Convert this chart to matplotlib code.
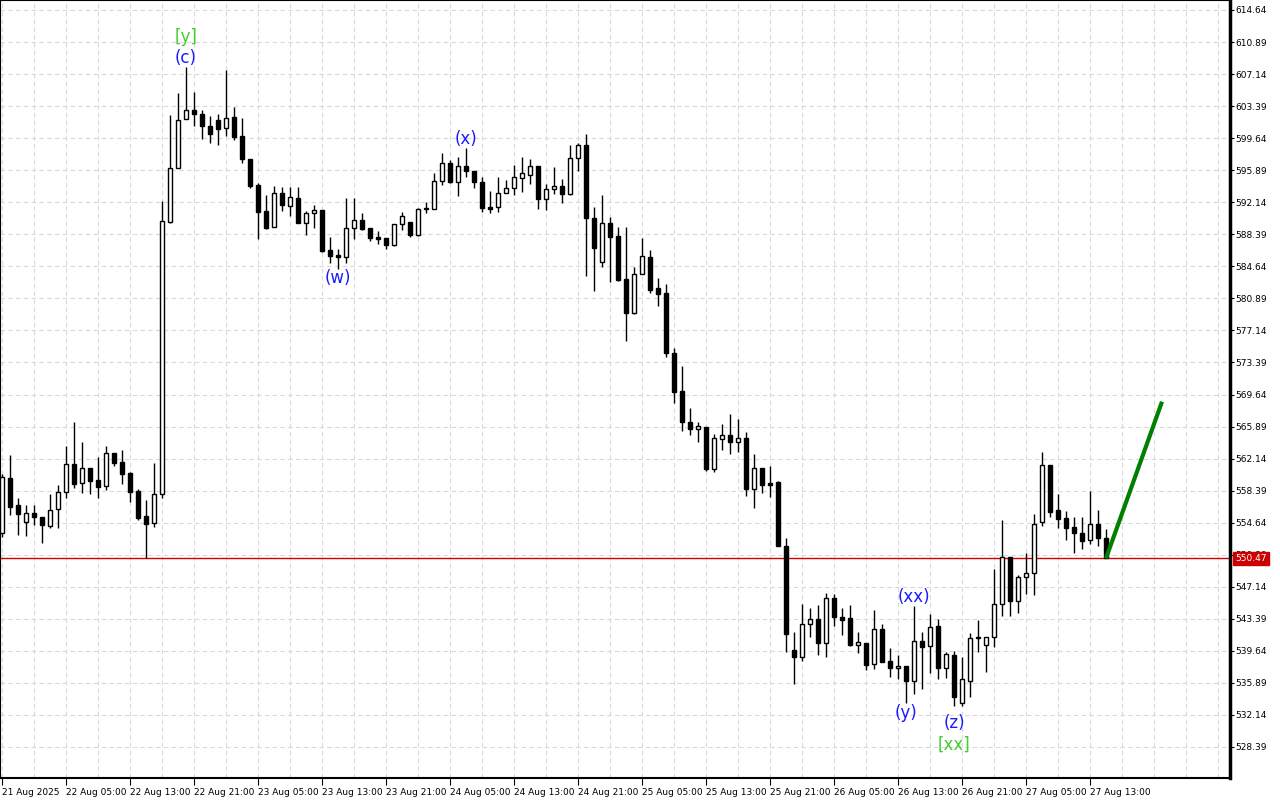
import matplotlib
matplotlib.use("Agg")
import matplotlib.pyplot as plt
import matplotlib.transforms as mtransforms

# ---------------- data (hourly candles, first bar = 21 Aug 2025 21:00) ----------------
opens = [553.40, 559.83, 556.67, 554.68, 555.74, 555.31, 554.29, 556.20, 558.19, 561.47,
         559.24, 561.00, 559.60, 558.97, 562.76, 561.74, 560.46, 558.35, 555.39, 554.57,
         557.96, 589.79, 596.11, 601.85, 602.90, 602.43, 601.10, 601.77, 600.79, 602.08,
         599.89, 597.20, 594.16, 591.12, 589.21, 593.19, 591.74, 592.60, 589.75, 590.85,
         591.23, 586.55, 585.97, 585.70, 589.09, 590.06, 589.09, 588.07, 587.96, 587.14,
         589.56, 589.79, 588.34, 591.31, 591.31, 594.59, 596.70, 594.51, 596.35, 595.76,
         594.51, 591.58, 591.55, 593.19, 593.77, 594.94, 595.29, 596.35, 592.56, 593.66,
         594.01, 593.07, 597.28, 598.84, 590.26, 585.18, 589.68, 588.19, 583.16, 579.14,
         583.71, 585.70, 582.07, 581.48, 574.46, 570.05, 566.42, 565.64, 565.84, 560.95,
         564.47, 564.86, 564.12, 564.51, 558.62, 561.08, 559.28, 559.36, 551.95, 539.70,
         538.89, 542.75, 543.34, 540.53, 545.79, 543.60, 543.45, 540.36, 540.53, 538.07,
         542.16, 538.45, 537.60, 537.87, 536.11, 540.76, 540.17, 542.55, 537.60, 539.15,
         533.54, 536.11, 541.11, 540.33, 541.30, 545.09, 550.59, 545.51, 548.25, 548.72,
         554.68, 561.38, 556.12, 555.15, 554.10, 553.40, 552.61, 554.48, 552.81]
highs = [560.30, 562.56, 557.53, 556.71, 556.71, 555.31, 557.99, 559.05, 563.61, 566.42,
         564.08, 561.00, 562.33, 563.61, 562.76, 563.14, 560.57, 558.55, 557.30, 561.59,
         592.29, 602.35, 604.89, 608.00, 605.04, 602.94, 602.23, 602.47, 607.62, 603.33,
         601.97, 597.20, 594.43, 592.99, 594.04, 593.96, 593.89, 593.89, 591.12, 591.82,
         591.23, 588.07, 586.71, 592.67, 592.64, 590.84, 589.09, 588.74, 587.96, 589.56,
         590.99, 589.79, 591.50, 592.20, 595.53, 597.87, 597.08, 597.47, 598.49, 595.76,
         595.13, 593.46, 595.10, 594.74, 596.50, 597.40, 597.20, 596.35, 594.28, 596.27,
         594.86, 598.84, 599.11, 600.13, 591.55, 592.99, 590.38, 589.28, 589.21, 584.53,
         587.96, 586.55, 583.24, 582.57, 575.05, 572.98, 568.06, 566.42, 565.84, 565.02,
         566.19, 567.36, 566.78, 565.25, 562.64, 561.08, 561.27, 559.55, 552.81, 541.89,
         545.12, 544.62, 545.01, 546.38, 546.26, 544.62, 545.01, 541.89, 540.53, 544.43,
         542.78, 539.94, 539.15, 537.87, 544.92, 541.89, 543.92, 543.34, 539.50, 539.65,
         538.96, 541.69, 543.25, 541.30, 549.23, 554.95, 550.59, 548.52, 551.06, 555.62,
         562.88, 561.38, 557.99, 556.00, 555.27, 555.27, 558.35, 556.12, 553.95]
lows = [553.00, 555.54, 553.20, 553.08, 554.37, 552.30, 554.06, 554.06, 557.56, 558.73,
        558.08, 557.99, 557.56, 558.46, 561.30, 559.20, 557.10, 554.95, 550.50, 554.17,
        557.50, 589.70, 596.10, 601.85, 601.06, 599.51, 599.11, 598.84, 599.89, 599.42,
        596.77, 593.77, 587.80, 588.97, 589.21, 591.15, 590.53, 589.67, 588.27, 589.17,
        586.35, 584.99, 584.29, 585.07, 587.80, 588.89, 587.64, 587.25, 586.63, 587.00,
        588.89, 588.10, 588.20, 590.84, 591.30, 594.12, 594.36, 592.84, 595.13, 593.77,
        591.03, 590.84, 591.03, 593.19, 592.99, 593.38, 594.24, 591.35, 591.23, 593.07,
        592.09, 593.00, 595.83, 583.54, 581.79, 584.60, 582.84, 582.96, 575.94, 579.10,
        583.70, 581.55, 579.99, 573.99, 568.68, 565.40, 564.94, 564.12, 560.72, 560.57,
        563.15, 562.71, 562.91, 557.76, 556.39, 558.08, 557.60, 551.90, 539.47, 535.72,
        538.49, 541.22, 539.15, 538.89, 542.59, 541.49, 540.21, 539.42, 537.40, 537.55,
        538.37, 536.62, 536.38, 533.50, 534.59, 535.18, 537.08, 536.32, 536.43, 533.22,
        533.22, 534.20, 539.54, 537.13, 540.13, 543.75, 543.75, 544.04, 546.30, 546.18,
        554.29, 555.35, 554.06, 552.61, 551.13, 551.56, 552.10, 551.91, 550.47]
closes = [559.95, 556.51, 555.62, 555.74, 555.27, 554.41, 556.08, 558.19, 561.47, 559.20,
          561.00, 559.55, 558.85, 562.76, 561.59, 560.36, 558.27, 555.19, 554.52, 557.96,
          589.95, 596.11, 601.77, 602.90, 602.43, 601.10, 600.09, 600.75, 602.03, 599.81,
          597.17, 594.08, 591.04, 589.17, 593.19, 591.82, 592.72, 589.75, 590.85, 591.20,
          586.47, 585.89, 585.70, 589.09, 590.06, 589.01, 587.99, 587.88, 587.17, 589.56,
          590.57, 588.34, 591.31, 591.35, 594.59, 596.70, 594.51, 596.35, 595.76, 594.47,
          591.50, 591.39, 593.22, 593.77, 595.06, 595.53, 596.35, 592.49, 593.66, 594.01,
          593.07, 597.28, 598.84, 590.33, 586.75, 589.68, 588.04, 583.04, 579.14, 583.71,
          585.81, 581.87, 581.44, 574.46, 569.97, 566.46, 565.64, 565.96, 560.95, 564.51,
          564.86, 564.12, 564.51, 558.62, 561.00, 559.05, 559.05, 551.95, 541.58, 538.89,
          542.75, 543.34, 540.60, 545.79, 543.64, 543.29, 540.36, 540.64, 537.99, 542.16,
          538.37, 537.60, 537.91, 536.11, 540.76, 540.13, 542.47, 537.60, 539.23, 534.27,
          536.39, 541.11, 541.15, 541.30, 545.09, 550.59, 545.51, 548.25, 548.72, 554.48,
          561.38, 555.93, 555.07, 554.06, 553.40, 552.53, 554.48, 552.81, 550.47]

tick_bars = [0, 8, 16, 24, 32, 40, 48, 56, 64, 72, 80, 88, 96, 104, 112, 120, 128, 136]
tick_labels = ["21 Aug 2025", "22 Aug 05:00", "22 Aug 13:00", "22 Aug 21:00", "23 Aug 05:00",
               "23 Aug 13:00", "23 Aug 21:00", "24 Aug 05:00", "24 Aug 13:00", "24 Aug 21:00",
               "25 Aug 05:00", "25 Aug 13:00", "25 Aug 21:00", "26 Aug 05:00", "26 Aug 13:00",
               "26 Aug 21:00", "27 Aug 05:00", "27 Aug 13:00"]
price_ticks = [528.39, 532.14, 535.89, 539.64, 543.39, 547.14, 550.89, 554.64, 558.39,
               562.14, 565.89, 569.64, 573.39, 577.14, 580.89, 584.64, 588.39, 592.14,
               595.89, 599.64, 603.39, 607.14, 610.89, 614.64]
current_price = 550.47

# wave labels: (text, bar, price, colour)
wave_labels = [("[y]", 23, 611.5, "#44cc33"), ("(c)", 23, 609.0, "#1a1aff"),
               ("(w)", 42, 583.3, "#1a1aff"), ("(x)", 58, 599.5, "#1a1aff"),
               ("(xx)", 114, 545.9, "#1a1aff"), ("(y)", 113, 532.4, "#1a1aff"),
               ("(z)", 119, 531.2, "#1a1aff"), ("[xx]", 119, 528.7, "#44cc33")]
# projection arrow: from last bar close to target
proj_bars = [138, 145]
proj_prices = [550.47, 568.8]

# ---------------- figure ----------------
fig = plt.figure(figsize=(12.8, 8), dpi=100)
ax = fig.add_axes([0.0, 0.0275, 1230 / 1280, 0.9725])
ax.set_xlim(-0.25, 153.5)
ax.set_ylim(524.76, 615.81)

# grid
ax.set_xticks(tick_bars)
ax.set_xticks(list(range(0, 154, 4)), minor=True)
ax.set_yticks(price_ticks)
gkw = dict(color="#d9d9d9", linestyle=(0, (4, 3)), linewidth=0.8)
ax.grid(True, which="major", **gkw)
ax.grid(True, which="minor", axis="x", **gkw)
ax.set_axisbelow(True)

# candles
bw = 0.62
n = len(opens)
xs = list(range(n))
ax.vlines(xs, lows, highs, color="black", linewidth=1.0, zorder=3)
for i in range(n):
    o, c = opens[i], closes[i]
    bottom = min(o, c)
    h = max(abs(c - o), 0.12)
    fc = "white" if c >= o else "black"
    ax.bar(i, h, bw, bottom=bottom, facecolor=fc, edgecolor="black",
           linewidth=1.0, zorder=4)

# current price line
ax.axhline(current_price, color="#d40000", linewidth=1.0, zorder=2)

# projection
ax.plot(proj_bars, proj_prices, color="#008000", linewidth=3, zorder=5,
        solid_capstyle="butt")

# wave labels
for txt, b, p, col in wave_labels:
    ax.text(b, p, txt, color=col, fontsize=12, ha="center", va="center", zorder=6)

# axes styling
for s in ["top", "left"]:
    ax.spines[s].set_linewidth(0.8)
ax.spines["right"].set_linewidth(2.5)
ax.spines["bottom"].set_linewidth(1.5)
ax.yaxis.tick_right()
ax.tick_params(axis="y", which="major", direction="out", length=3, width=0.8,
               labelsize=6.5, pad=1)
ax.tick_params(axis="x", which="major", direction="out", length=5, width=0.8,
               labelsize=6.5, pad=2)
ax.tick_params(axis="x", which="minor", length=0)
ax.set_yticklabels([f"{p:.2f}" for p in price_ticks])
ax.set_xticklabels(tick_labels)
for lab in ax.get_xticklabels():
    lab.set_ha("left")

# current price tag
trans = mtransforms.blended_transform_factory(ax.transAxes, ax.transData)
ax.text(1.004, current_price, f"{current_price:.2f}", transform=trans, color="white",
        fontsize=6.5, ha="left", va="center", zorder=10, clip_on=False,
        bbox=dict(boxstyle="square,pad=0.25", facecolor="#cc0000", edgecolor="#cc0000"))

fig.savefig("out.png", dpi=100)
